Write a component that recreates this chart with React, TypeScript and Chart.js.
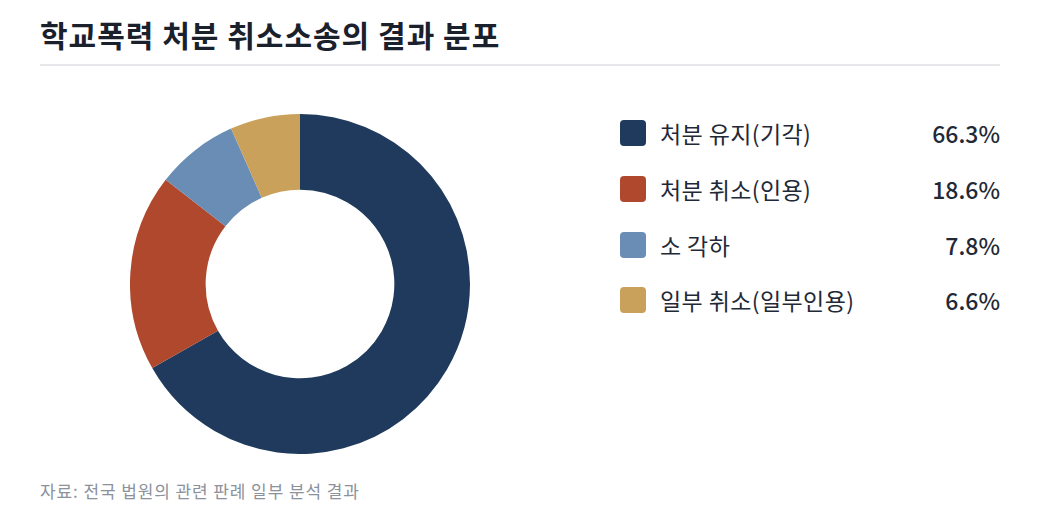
import { useEffect, useRef } from "react"
import { Chart, registerables } from "chart.js"

Chart.register(...registerables)

const labels = ["처분 유지(기각)", "처분 취소(인용)", "소 각하", "일부 취소(일부인용)"]
const values = [66.3, 18.6, 7.8, 6.6]
const colors = ["#1f3a5c", "#b0482e", "#6a8db5", "#c9a15b"]

const FONT = "'Noto Sans CJK KR', 'Noto Sans', sans-serif"

export default function App() {
  const chartRef = useRef<HTMLCanvasElement>(null)
  const chartInstance = useRef<Chart | null>(null)

  useEffect(() => {
    document.body.style.margin = "0"
    if (!chartRef.current) return
    const ctx = chartRef.current.getContext("2d")
    if (!ctx) return

    chartInstance.current = new Chart(ctx, {
      type: "doughnut",
      data: {
        labels,
        datasets: [
          {
            data: values,
            backgroundColor: colors,
            borderWidth: 0,
          },
        ],
      },
      options: {
        animation: false,
        responsive: true,
        maintainAspectRatio: false,
        cutout: "55.5%",
        layout: { padding: 0 },
        plugins: {
          legend: { display: false },
          tooltip: { enabled: false },
        },
      },
    })

    return () => {
      if (chartInstance.current) {
        chartInstance.current.destroy()
        chartInstance.current = null
      }
    }
  }, [])

  return (
    <div
      style={{
        position: "relative",
        width: 1040,
        height: 525,
        background: "#ffffff",
        fontFamily: FONT,
        overflow: "hidden",
      }}
    >
      <div
        style={{
          position: "absolute",
          left: 40,
          top: 13,
          fontSize: 30,
          fontWeight: 700,
          letterSpacing: 1,
          color: "#1a202c",
          lineHeight: "42px",
          whiteSpace: "nowrap",
        }}
      >
        학교폭력 처분 취소소송의 결과 분포
      </div>
      <div
        style={{
          position: "absolute",
          left: 40,
          top: 64,
          width: 960,
          height: 2,
          background: "#e5e7eb",
        }}
      />

      <div style={{ position: "absolute", left: 130, top: 114, width: 340, height: 340 }}>
        <canvas ref={chartRef} />
      </div>

      {labels.map((label, i) => (
        <div
          key={label}
          style={{
            position: "absolute",
            left: 620,
            top: 133 + i * 55.8 - 16,
            width: 380,
            height: 32,
            display: "flex",
            alignItems: "center",
          }}
        >
          <div
            style={{
              width: 26,
              height: 26,
              borderRadius: 4,
              background: colors[i],
              flex: "none",
            }}
          />
          <div
            style={{
              marginLeft: 14,
              fontSize: 23,
              letterSpacing: 0.4,
              color: "#1f2937",
              flex: 1,
              whiteSpace: "nowrap",
              lineHeight: "32px",
            }}
          >
            {label}
          </div>
          <div
            style={{
              fontSize: 23,
              fontWeight: 500,
              color: "#1f2937",
              whiteSpace: "nowrap",
              lineHeight: "32px",
            }}
          >
            {values[i].toFixed(1)}%
          </div>
        </div>
      ))}

      <div
        style={{
          position: "absolute",
          left: 40,
          top: 478,
          fontSize: 17,
          letterSpacing: 0.9,
          color: "#8b929c",
          lineHeight: "26px",
          whiteSpace: "nowrap",
        }}
      >
        자료: 전국 법원의 관련 판례 일부 분석 결과
      </div>
    </div>
  )
}
